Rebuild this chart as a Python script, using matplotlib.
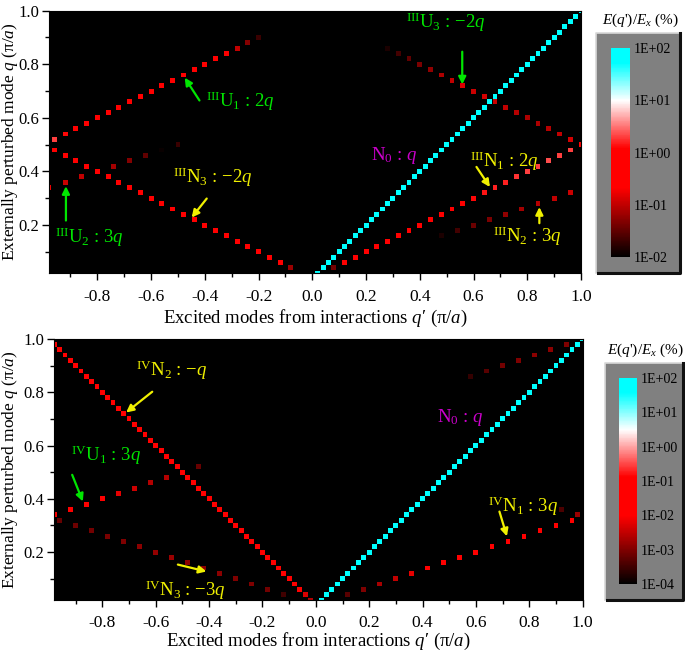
import numpy as np
import matplotlib
matplotlib.use('Agg')
import matplotlib.pyplot as plt
from matplotlib.colors import LinearSegmentedColormap, Normalize
from matplotlib.patches import Rectangle
from matplotlib.lines import Line2D
from matplotlib.ticker import MultipleLocator
import matplotlib.colorbar as mcolorbar

plt.rcParams['font.family'] = ['Liberation Serif', 'DejaVu Serif']
plt.rcParams['mathtext.fontset'] = 'custom'
plt.rcParams['mathtext.rm'] = 'Liberation Serif'
plt.rcParams['mathtext.it'] = 'Liberation Serif:italic'
plt.rcParams['axes.unicode_minus'] = False

# ---- data: log10 of E(q')/Ex (%) for each excited branch, q step 0.02 ----
# each branch: q' = k*q + shift, q starts at q0
dq = 0.02

# panel III
iii_n0 = [2.0] * 50                                   # q, q0=0.02
iii_n1 = [-1.4, -0.4, -0.35, -0.3, -0.3, -0.25, -0.2, -0.2, -0.15, -0.1, -0.05, 0.0,
          0.05, 0.1, 0.15, 0.2, 0.2, 0.25, 0.3, 0.3, 0.35, 0.3, 0.3, 0.1]     # 2q, q0=0.04
iii_u1 = [0.3, 0.1, 0.0, -0.05, -0.1, -0.1, -0.1, -0.15, -0.15, -0.2, -0.2, -0.2,
          -0.25, -0.3, -0.3, -0.4, -0.7, -1.0, -1.3, -1.7]                     # 2q-2, q0=0.52
iii_n3 = [-1.2, -0.5, -0.45, -0.4, -0.4, -0.35, -0.35, -0.3, -0.3, -0.3, -0.25, -0.25,
          -0.2, -0.2, -0.2, -0.15, -0.15, -0.1, -0.1, -0.1, -0.05, 0.0, 0.05]  # -2q, q0=0.04
iii_u3 = [-0.9, -1.0, -1.05, -1.1, -1.1, -1.05, -1.0, -0.95, -0.9, -0.95, -0.85, -1.0,
          -1.1, -1.25, -1.35, -1.5, -1.65, -1.85]                             # 2-2q, q0=0.52
iii_n2 = [-1.85, -1.65, -1.45, -1.35, -1.25, -1.15, -1.05, -1.0, -0.95]       # 3q, q0=0.16
iii_u2 = [-0.7, -0.95, -1.0, -1.1, -1.15, -1.3, -1.5, -1.95, -1.7]            # 3q-2, q0=0.34

# panel IV
iv_n0 = [2.0] * 50                                    # q, q0=0.02
iv_n2 = [-2.6, -2.3, -1.9, -1.6, -1.5] + [-1.4] * 40 + [-1.3, -1.3, -1.3, -1.2]  # -q, q0=0.02
iv_u1 = [-1.6, -1.4, -1.15, -1.7, -2.2, -2.4, -2.6, -2.6, -2.8, -3.2]        # 3q-2, q0=0.34
iv_n3 = [-3.5, -3.1, -3.0, -3.0, -2.9, -2.9, -2.9, -2.8, -2.85, -2.9, -3.0, -3.05,
         -3.1, -3.15, -3.2]                                                   # -3q, q0=0.04
iv_n1 = [-3.3, -3.0, -2.7, -2.5, -2.2, -2.0, -1.8, -1.7, -1.6, -1.5, -1.3, -1.45,
         -1.45, -1.45, -1.5]                                                  # 3q, q0=0.04
iv_d1 = [-2.8, -3.4]                                                          # 2-3q, q0=0.34
iv_d2 = [-3.6, -3.3, -3.1, -3.0, -2.9, -2.9, -3.0]                            # 3q-2, q0=0.86

panel_iii = [(-2, 2, 0.52, iii_u3), (3, 0, 0.16, iii_n2), (3, -2, 0.34, iii_u2),
             (2, -2, 0.52, iii_u1), (-2, 0, 0.04, iii_n3), (2, 0, 0.04, iii_n1),
             (1, 0, 0.02, iii_n0)]
panel_iv = [(3, -2, 0.86, iv_d2), (-3, 2, 0.34, iv_d1), (-3, 0, 0.04, iv_n3),
            (3, -2, 0.34, iv_u1), (3, 0, 0.04, iv_n1), (-1, 0, 0.02, iv_n2),
            (1, 0, 0.02, iv_n0)]
cb_iii = [-2, -1, 0, 1, 2]
cb_iv = [-4, -3, -2, -1, 0, 1, 2]
xtick_vals = [-0.8, -0.6, -0.4, -0.2, 0.0, 0.2, 0.4, 0.6, 0.8, 1.0]

cmap = LinearSegmentedColormap.from_list(
    'eq', [(0, 'black'), (0.33, '#ff0000'), (0.52, '#ff0000'), (0.75, 'white'),
           (0.93, '#00ffff'), (1, '#00ffff')])

W, H = 685, 654
fig = plt.figure(figsize=(6.85, 6.54), dpi=100)


def fbox(x0, y0, x1, y1):
    return [x0 / W, 1 - y1 / H, (x1 - x0) / W, (y1 - y0) / H]


def draw_panel(box, branches, vmin, xlab_y):
    ax = fig.add_axes(fbox(*box))
    ax.set_facecolor('black')
    norm = Normalize(vmin, 2)
    for k, shift, q0, vals in branches:
        q = q0 + dq * np.arange(len(vals))
        qp = k * q + shift
        ax.scatter(qp, q, c=vals, cmap=cmap, norm=norm, marker='s', s=12.5,
                   linewidths=0, zorder=2)
    ax.set_xlim(-0.98, 1.0)
    ax.set_ylim(0.02, 1.0)
    ax.xaxis.set_minor_locator(MultipleLocator(0.1))
    ax.yaxis.set_major_locator(MultipleLocator(0.2))
    ax.yaxis.set_minor_locator(MultipleLocator(0.1))
    ax.tick_params(which='major', direction='out', length=5, width=1, labelsize=12.5)
    ax.tick_params(which='minor', direction='out', length=3, width=1)
    ax.tick_params(axis='x', pad=6)
    ax.tick_params(axis='y', pad=2, labelsize=12)
    ax.set_xticks(xtick_vals)
    ax.set_xticklabels(['%.1f' % v for v in xtick_vals])
    ax.set_xlabel("Excited modes from interactions $q$′ (π/$a$)", fontsize=13.5)
    ax.set_ylabel("Externally perturbed mode $q$ (π/$a$)", fontsize=12.5)
    x0, y0, x1, y1 = box
    ax.xaxis.set_label_coords(0.5, -(xlab_y - y1) / (y1 - y0))
    ax.xaxis.label.set_va('center')
    ax.yaxis.set_label_coords(-(x0 - 10) / (x1 - x0), 0.5)
    ax.yaxis.label.set_va('center')
    return ax


def draw_cbar(box, bar, title_xy, vmin, ticks):
    x0, y0, x1, y1 = box
    fig.patches.append(Rectangle((x0 / W, 1 - y1 / H), (x1 - x0) / W, (y1 - y0) / H,
                                 transform=fig.transFigure, facecolor='#808080',
                                 edgecolor='none', zorder=-2))
    fig.lines.append(Line2D([x0 / W, x0 / W, x1 / W], [1 - y1 / H, 1 - y0 / H, 1 - y0 / H],
                            transform=fig.transFigure, color='#d8d8d8', lw=1.2, zorder=-1))
    fig.lines.append(Line2D([(x0 + 2) / W, x1 / W, x1 / W], [1 - y1 / H, 1 - y1 / H, 1 - y0 / H],
                            transform=fig.transFigure, color='#111111', lw=2.2, zorder=-1))
    cax = fig.add_axes(fbox(*bar))
    cax.set_zorder(3)
    cb = mcolorbar.ColorbarBase(cax, cmap=cmap, norm=Normalize(vmin, 2), ticks=ticks)
    cb.outline.set_visible(False)
    cb.ax.set_yticklabels(['1E%+03d' % t if t >= 0 else '1E-%02d' % (-t) for t in ticks])
    cb.ax.tick_params(length=0, labelsize=10, pad=3)
    fig.text(title_xy[0] / W, 1 - title_xy[1] / H, "$E(q$')/$E_x$ (%)", fontsize=11,
             ha='center', va='center')


def note(ax, text, xy, color, arrow=None):
    ax.text(xy[0], xy[1], text, color=color, fontsize=13.5, ha='left', va='center', zorder=5)
    if arrow:
        ax.annotate('', xy=arrow[1], xytext=arrow[0],
                    arrowprops=dict(arrowstyle='-|>', color=color, lw=1.6,
                                    mutation_scale=11, shrinkA=0, shrinkB=0), zorder=5)


green, yellow, magenta = '#00e600', '#f0f000', '#cc00cc'

ax1 = draw_panel((49, 10.7, 581, 273.3), panel_iii, -2, 318)
note(ax1, r'$^{\rm III}$U$_1$ : $2q$', (-0.397, 0.662), green,
     ((-0.42, 0.665), (-0.475, 0.75)))
note(ax1, r'$^{\rm III}$U$_2$ : $3q$', (-0.958, 0.154), green,
     ((-0.917, 0.217), (-0.917, 0.345)))
note(ax1, r'$^{\rm III}$N$_3$ : $-2q$', (-0.517, 0.378), yellow,
     ((-0.393, 0.299), (-0.449, 0.228)))
note(ax1, r'$^{\rm III}$U$_3$ : $-2q$', (0.35, 0.958), green,
     ((0.558, 0.847), (0.558, 0.725)))
note(ax1, r'N$_0$ : $q$', (0.219, 0.46), magenta)
note(ax1, r'$^{\rm III}$N$_1$ : $2q$', (0.586, 0.438), yellow,
     ((0.611, 0.417), (0.661, 0.342)))
note(ax1, r'$^{\rm III}$N$_2$ : $3q$', (0.672, 0.158), yellow,
     ((0.845, 0.207), (0.845, 0.267)))

ax2 = draw_panel((54.3, 339, 582.7, 600), panel_iv, -4, 641)
note(ax2, r'$^{\rm IV}$N$_2$ : $-q$', (-0.672, 0.884), yellow,
     ((-0.613, 0.802), (-0.711, 0.724)))
note(ax2, r'$^{\rm IV}$U$_1$ : $3q$', (-0.919, 0.565), green,
     ((-0.913, 0.49), (-0.873, 0.39)))
note(ax2, r'$^{\rm IV}$N$_3$ : $-3q$', (-0.642, 0.058), yellow,
     ((-0.517, 0.153), (-0.41, 0.127)))
note(ax2, r'N$_0$ : $q$', (0.454, 0.707), magenta)
note(ax2, r'$^{\rm IV}$N$_1$ : $3q$', (0.645, 0.373), yellow,
     ((0.688, 0.352), (0.716, 0.259)))

draw_cbar((596, 33, 680, 273), (611, 48, 630, 257), (640, 20), -2, cb_iii)
draw_cbar((605, 363, 683, 600), (619, 378, 637, 584), (645, 350), -4, cb_iv)

fig.savefig('out.png', dpi=100, facecolor='white')
